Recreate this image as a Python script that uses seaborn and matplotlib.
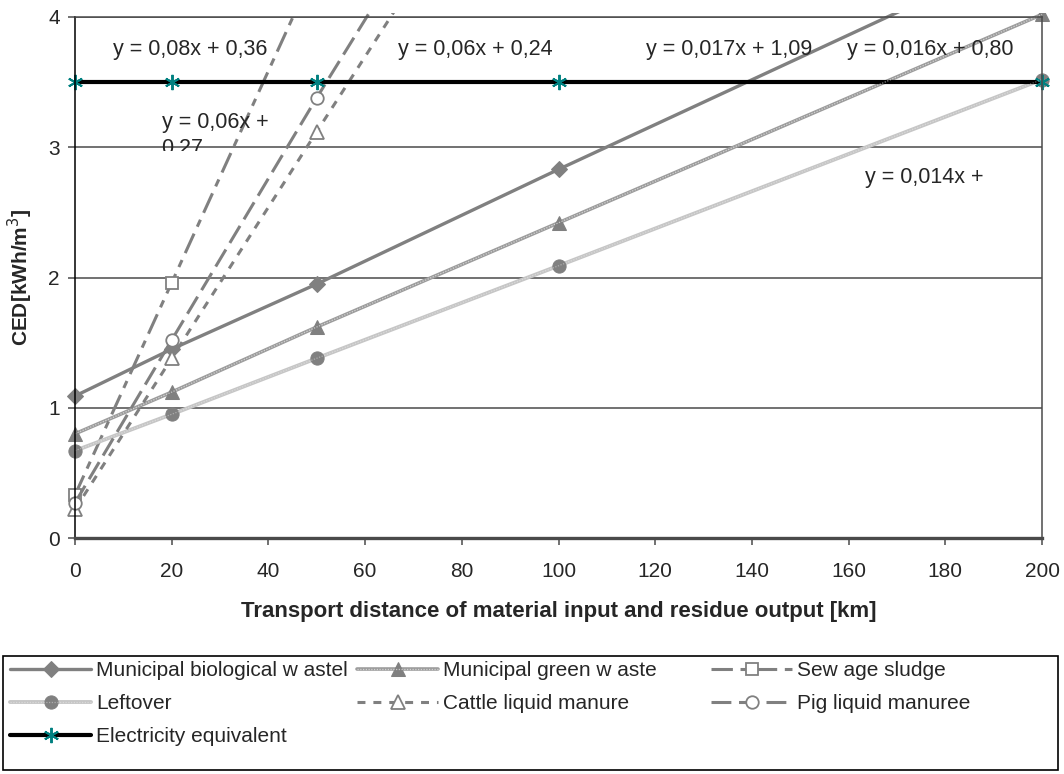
import numpy as np
import matplotlib
matplotlib.use("Agg")
import matplotlib.pyplot as plt
import seaborn as sns
from matplotlib.patches import Rectangle

# dados
distancia = [0, 20, 50, 100, 200]
bio = [1.09, 1.45, 1.95, 2.83, 4.55]
verde = [0.80, 1.12, 1.62, 2.42, 4.02]
sobras = [0.67, 0.95, 1.38, 2.09, 3.52]
lodo = [0.33, 1.96, 4.40, 8.40, 16.40]
gado = [0.22, 1.38, 3.12, 6.00, 11.90]
porco = [0.27, 1.52, 3.38, 6.38, 12.38]
eletricidade = [3.5, 3.5, 3.5, 3.5, 3.5]

nomes = ["Municipal biological w astel", "Municipal green w aste", "Sew age sludge",
         "Leftover", "Cattle liquid manure", "Pig liquid manuree", "Electricity equivalent"]

equacoes = [("y = 0,08x + 0,36", 7.9, 3.75), ("y = 0,06x + 0,24", 66.8, 3.75),
            ("y = 0,017x + 1,09", 118.1, 3.75), ("y = 0,016x + 0,80", 159.7, 3.75),
            ("y = 0,014x +", 163.4, 2.77)]

sns.set_style("white")
plt.rcParams['font.family'] = ['Liberation Sans', 'DejaVu Sans']

fig = plt.figure(figsize=(10.64, 7.74), dpi=100)
ax = fig.add_axes([75/1064, 1-538/774, (1042-75)/1064, (538-17)/774])

cinza = "#808080"
estilos = [
    (bio, dict(color=cinza, lw=2.4, marker="D", ms=8, mfc=cinza, mec=cinza)),
    (verde, dict(color="#9c9c9c", lw=2.6, marker="^", ms=9.5, mfc=cinza, mec=cinza)),
    (lodo, dict(color=cinza, lw=2.2, linestyle=(0, (7, 2.5, 2.5, 2.5)), marker="s", ms=9,
                mfc="white", mec=cinza, mew=1.3)),
    (sobras, dict(color="#c6c6c6", lw=2.8, marker="o", ms=9.5, mfc=cinza, mec=cinza)),
    (gado, dict(color=cinza, lw=2.2, linestyle=(0, (2.6, 2.6)), marker="^", ms=9.5,
                mfc="white", mec=cinza, mew=1.3)),
    (porco, dict(color=cinza, lw=2.2, linestyle=(0, (6.5, 2.5)), marker="o", ms=9,
                 mfc="white", mec=cinza, mew=1.3)),
    (eletricidade, dict(color="black", lw=3.0, marker=(6, 2, 0), ms=11,
                        mfc="#008080", mec="#008080", mew=1.4)),
]

def recorte():
    # marcadores nas bordas ficam inteiros, linhas cortadas no topo
    return Rectangle((-6, -0.3), 212, 4.33, transform=ax.transData)

linhas = []
for (valores, kw), nome in zip(estilos, nomes):
    sns.lineplot(x=distancia, y=valores, ax=ax, label=nome, **kw)
    ln = ax.lines[-1]
    ln.set_clip_path(recorte())
    linhas.append(ln)

# textura pontilhada das linhas "verde" e "sobras"
handles = list(linhas)
for i, valores, alfa in [(1, verde, 0.55), (3, sobras, 0.35)]:
    tx, = ax.plot(distancia, valores, color="white", lw=0.9, alpha=alfa,
                  linestyle=(0, (1, 1.2)))
    tx.set_clip_path(recorte())
    handles[i] = (linhas[i], tx)

ax.set_xlim(0, 200)
ax.set_ylim(0, 4)
ax.set_xticks(range(0, 201, 20))
ax.set_yticks([0, 1, 2, 3, 4])
ax.yaxis.grid(True, color="#4a4a4a", lw=1.1)
ax.xaxis.grid(False)
for s in ax.spines.values():
    s.set_color("#4a4a4a")
    s.set_linewidth(1.1)
ax.spines["left"].set_color("black")
ax.spines["bottom"].set_linewidth(2.4)
ax.tick_params(axis="both", direction="out", length=5, width=1.1, color="#4a4a4a",
               labelsize=15, bottom=True, left=True)
ax.tick_params(axis="x", pad=12)
ax.tick_params(axis="y", pad=6)
ax.set_axisbelow(True)

ax.set_xlabel("Transport distance of material input and residue output [km]",
              fontsize=16, fontweight="bold")
ax.xaxis.set_label_coords(0.5, -(612-538)/521)
ax.xaxis.label.set_va("center")
ax.set_ylabel("CED[kWh/m$^3$]", fontsize=15, fontweight="bold")
ax.yaxis.set_label_coords(-(75-20)/967, 0.5)
ax.yaxis.label.set_va("center")

for texto, xx, yy in equacoes:
    ax.text(xx, yy, texto, fontsize=15.5, ha="left", va="center")

# rótulo cortado logo abaixo da linha do 3
t = ax.text(17.9, 3.09, "y = 0,06x +\n0,27", fontsize=15.5, ha="left", va="center",
            linespacing=1.3)
t.set_clip_on(True)
t.set_clip_path(Rectangle((0, 2.975), 200, 1.1, transform=ax.transData))

ax.get_legend().remove()

# legenda em três colunas com posições fixas, moldura à parte
fig.patches.append(Rectangle((3/1064, 1-770/774), 1055/1064, 114/774,
                             transform=fig.transFigure, fill=False,
                             edgecolor="black", lw=1.2))
colunas = [([0, 3, 6], 10), ([1, 4], 357), ([2, 5], 711)]
for idx, xpix in colunas:
    fig.legend([handles[i] for i in idx], [nomes[i] for i in idx], loc="upper left",
               bbox_to_anchor=(xpix/1064, 1-661/774), frameon=False, fontsize=15,
               handlelength=3.9, handletextpad=0.25, labelspacing=0.68,
               borderpad=0, borderaxespad=0)

fig.savefig("out.png", dpi=100)
